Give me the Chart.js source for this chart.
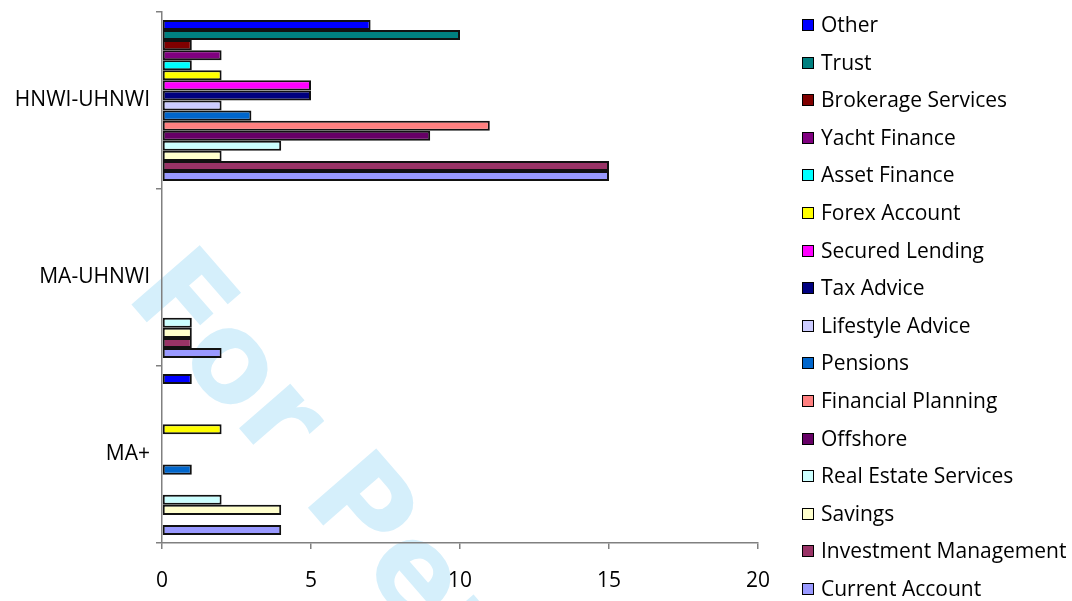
<!DOCTYPE html>
<html>
<head>
<meta charset="utf-8">
<script src="https://cdn.jsdelivr.net/npm/chart.js@4.4.1/dist/chart.umd.min.js"></script>
<style>
  html, body { margin: 0; padding: 0; background: #fff; }
  .wrap { position: relative; width: 1072px; height: 601px; }
  canvas { display: block; }
  #legend { position: absolute; left: 802px; top: 0; font-family: "Open Sans", sans-serif; font-size: 21px; color: #000; }
  #legend div { position: absolute; left: 0; white-space: nowrap; height: 26px; line-height: 26px; }
  #legend span.box { display: inline-block; width: 10px; height: 10px; border: 1.5px solid #000; margin-right: 7px; vertical-align: 1px; }
</style>
</head>
<body>
<div class="wrap">
  <canvas id="myChart" width="1072" height="601"></canvas>
  <div id="legend"></div>
</div>
<script>
const categories = ['HNWI-UHNWI', 'MA-UHNWI', 'MA+']
const seriesNames = ['Other', 'Trust', 'Brokerage Services', 'Yacht Finance', 'Asset Finance', 'Forex Account',
    'Secured Lending', 'Tax Advice', 'Lifestyle Advice', 'Pensions', 'Financial Planning', 'Offshore',
    'Real Estate Services', 'Savings', 'Investment Management', 'Current Account']
const seriesColors = ['#0000FF', '#008080', '#800000', '#800080', '#00FFFF', '#FFFF00',
    '#FF00FF', '#000080', '#CCCCFF', '#0066CC', '#FF8080', '#660066',
    '#CCFFFF', '#FFFFCC', '#993366', '#9999FF']

// one value per series, same order as seriesNames
const hnwiUhnwi = [7, 10, 1, 2, 1, 2, 5, 5, 2, 3, 11, 9, 4, 2, 15, 15]
const maUhnwi = [0, 0, 0, 0, 0, 0, 0, 0, 0, 0, 0, 0, 1, 1, 1, 2]
const maPlus = [1, 0, 0, 0, 0, 2, 0, 0, 0, 1, 0, 0, 2, 4, 0, 4]

const xTicks = [0, 5, 10, 15, 20]

const datasets = seriesNames.map((name, i) => ({
    label: name,
    data: [hnwiUhnwi[i], maUhnwi[i], maPlus[i]],
    backgroundColor: seriesColors[i],
    borderColor: '#111',
    borderWidth: 2,
    borderSkipped: false,
    categoryPercentage: 0.91,
    barPercentage: 1.0
}))

// legend
const legend = document.getElementById('legend')
seriesNames.forEach((name, i) => {
    const item = document.createElement('div')
    item.style.top = (11 + i * 37.6) + 'px'
    item.innerHTML = '<span class="box" style="background:' + seriesColors[i] + '"></span>' + name
    legend.appendChild(item)
})

// faint diagonal stamp behind the bars
const watermark = {
    id: 'watermark',
    beforeDraw(chart) {
        const c = chart.ctx
        c.save()
        c.translate(124, 296)
        c.rotate(49 * Math.PI / 180)
        c.font = 'bold 124px "DejaVu Sans"'
        c.fillStyle = '#d5effb'
        c.fillText('For Personal Use Only', 0, 0)
        c.restore()
    }
}

const ctx = document.getElementById('myChart').getContext('2d')
const chart = new Chart(ctx, {
    type: 'bar',
    data: {
        labels: categories,
        datasets: datasets
    },
    options: {
        indexAxis: 'y',
        responsive: false,
        animation: false,
        layout: { autoPadding: false, padding: { left: 0, right: 314, top: 12, bottom: 0 } },
        plugins: {
            legend: { display: false },
            tooltip: { enabled: false }
        },
        scales: {
            x: {
                min: 0,
                max: 20,
                afterBuildTicks: (scale) => { scale.ticks = xTicks.map(v => ({ value: v })) },
                afterFit: (scale) => { scale.height = 58 },
                border: { color: '#808080', width: 1.5 },
                grid: { drawOnChartArea: false, tickLength: 6, color: '#808080', lineWidth: 1.5 },
                ticks: { color: '#000', padding: 19, font: { family: 'Open Sans', size: 21 } }
            },
            y: {
                afterFit: (scale) => {
                    scale.width = 162
                    scale.paddingTop = 0
                    scale.paddingBottom = 0
                },
                border: { color: '#808080', width: 1.5 },
                grid: { drawOnChartArea: false, tickLength: 6, color: '#808080', lineWidth: 1.5, offset: true },
                ticks: { color: '#000', padding: 6, font: { family: 'Open Sans', size: 21 } }
            }
        }
    },
    plugins: [watermark]
})
</script>
</body>
</html>
